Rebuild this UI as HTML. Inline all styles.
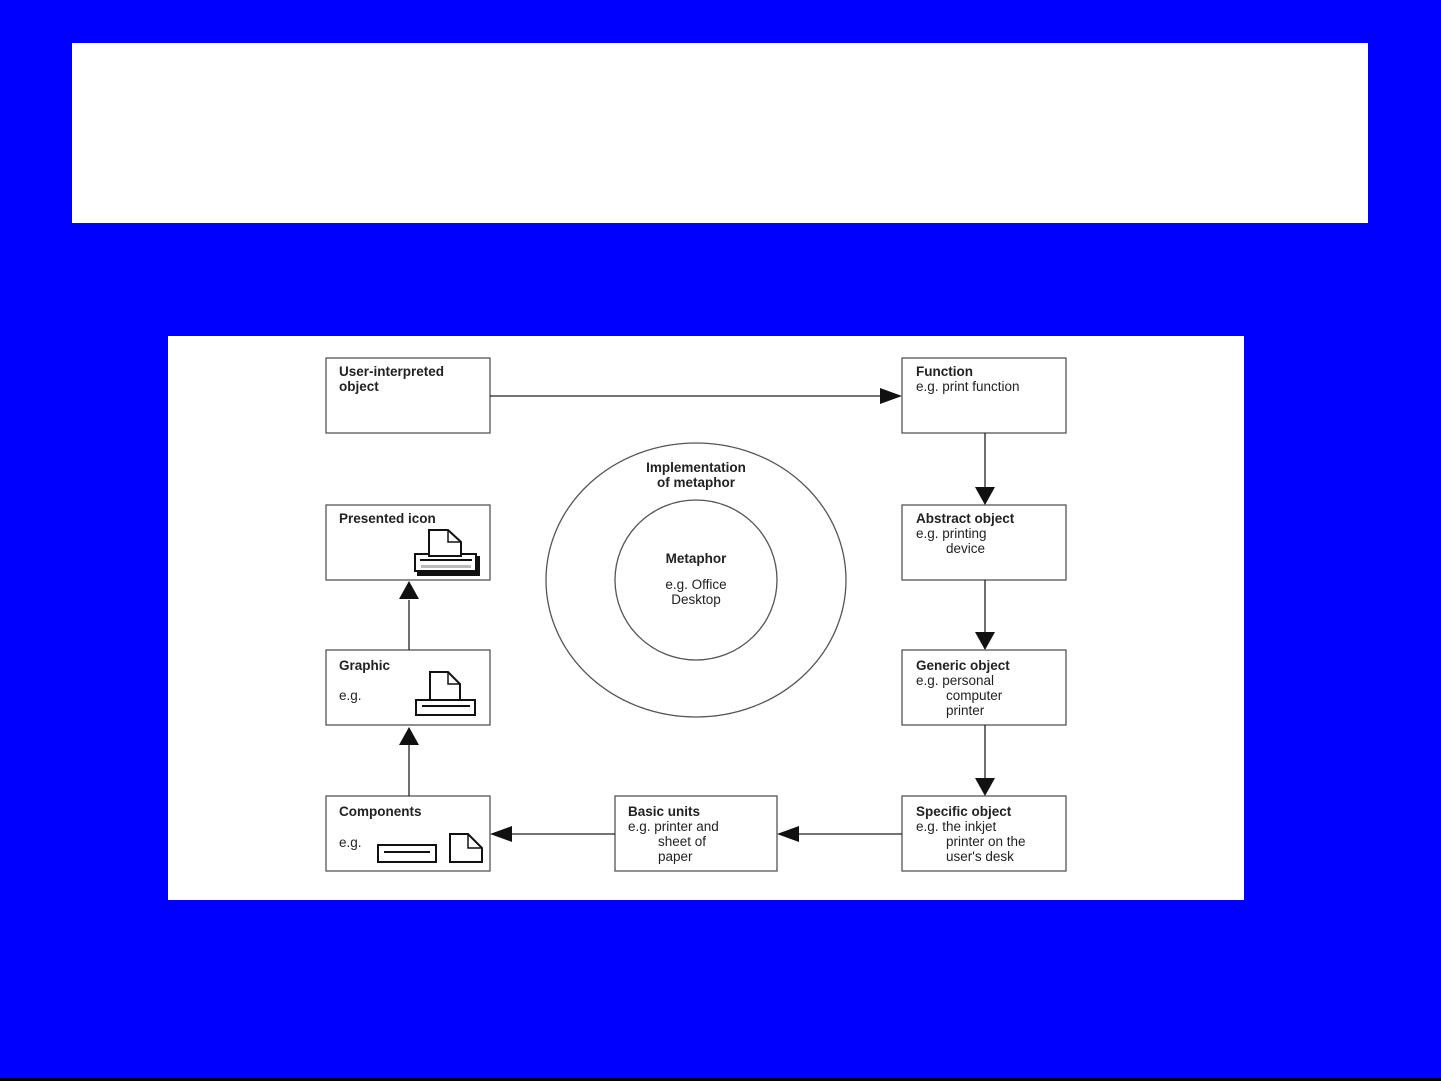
<!DOCTYPE html>
<html><head><style>
html,body{margin:0;padding:0;background:#0000ff;width:1441px;height:1081px;overflow:hidden}
svg{position:absolute;left:0;top:0}
text{font-family:"Liberation Sans",sans-serif;font-size:13.5px;fill:#222}
.b{font-weight:bold}
</style></head><body>
<svg width="1441" height="1081" viewBox="0 0 1441 1081">
<rect x="0" y="0" width="1441" height="1081" fill="#0000ff"/>
<rect x="0" y="1078" width="1441" height="3" fill="#000"/>
<rect x="72" y="43" width="1296" height="180" fill="#fff"/>
<rect x="168" y="336" width="1076" height="564" fill="#fff"/>
<g fill="#fff" stroke="#555" stroke-width="1.3">
<rect x="326" y="358" width="164" height="75"/>
<rect x="902" y="358" width="164" height="75"/>
<rect x="902" y="505" width="164" height="75"/>
<rect x="902" y="650" width="164" height="75"/>
<rect x="902" y="796" width="164" height="75"/>
<rect x="615" y="796" width="162" height="75"/>
<rect x="326" y="796" width="164" height="75"/>
<rect x="326" y="650" width="164" height="75"/>
<rect x="326" y="505" width="164" height="75"/>
<ellipse cx="696" cy="580" rx="150" ry="137"/>
<ellipse cx="696" cy="580" rx="81" ry="80"/>
</g>
<g stroke="#222" stroke-width="1.3" fill="none">
<line x1="490" y1="396" x2="884" y2="396"/>
<line x1="985" y1="433" x2="985" y2="488"/>
<line x1="985" y1="580" x2="985" y2="633"/>
<line x1="985" y1="725" x2="985" y2="779"/>
<line x1="902" y1="834" x2="797" y2="834"/>
<line x1="615" y1="834" x2="510" y2="834"/>
<line x1="409" y1="796" x2="409" y2="745"/>
<line x1="409" y1="650" x2="409" y2="600"/>
</g>
<g fill="#111">
<polygon points="902,396 880,388 880,404"/>
<polygon points="985,505 975,487 995,487"/>
<polygon points="985,650 975,632 995,632"/>
<polygon points="985,796 975,778 995,778"/>
<polygon points="777,834 799,826 799,842"/>
<polygon points="490,834 512,826 512,842"/>
<polygon points="409,727 399,745 419,745"/>
<polygon points="409,581 399,599 419,599"/>
</g>
<g stroke="#111" stroke-width="2" fill="#fff">
<rect x="378" y="845" width="58" height="17"/>
<line x1="384" y1="852" x2="430" y2="852"/>
<path d="M450 834 H468 L482 848 V862 H450 Z"/>
<path d="M468 834 V848 H482" fill="none" stroke-width="1.5"/>
<path d="M430 672 H448 L460 684 V700 H430 Z"/>
<path d="M448 672 V684 H460" fill="none" stroke-width="1.5"/>
<rect x="416" y="700" width="59" height="15"/>
<line x1="422" y1="706" x2="470" y2="706"/>
<rect x="418" y="557" width="61" height="18" fill="#111"/>
<rect x="415" y="554" width="61" height="17"/>
<path d="M429 530 H448 L461 542 V556 H429 Z"/>
<path d="M448 530 V542 H461" fill="none" stroke-width="1.5"/>
<line x1="420" y1="560" x2="472" y2="560"/>
<rect x="421" y="565" width="50" height="3" fill="#bbb" stroke="none"/>
</g>
<text x="339" y="376" class="b">User-interpreted</text>
<text x="339" y="391" class="b">object</text>
<text x="916" y="376" class="b">Function</text>
<text x="916" y="391">e.g. print function</text>
<text x="916" y="523" class="b">Abstract object</text>
<text x="916" y="538">e.g. printing</text>
<text x="946" y="553">device</text>
<text x="916" y="670" class="b">Generic object</text>
<text x="916" y="685">e.g. personal</text>
<text x="946" y="700">computer</text>
<text x="946" y="715">printer</text>
<text x="916" y="816" class="b">Specific object</text>
<text x="916" y="831">e.g. the inkjet</text>
<text x="946" y="846">printer on the</text>
<text x="946" y="861">user's desk</text>
<text x="628" y="816" class="b">Basic units</text>
<text x="628" y="831">e.g. printer and</text>
<text x="658" y="846">sheet of</text>
<text x="658" y="861">paper</text>
<text x="339" y="816" class="b">Components</text>
<text x="339" y="847">e.g.</text>
<text x="339" y="670" class="b">Graphic</text>
<text x="339" y="700">e.g.</text>
<text x="339" y="523" class="b">Presented icon</text>
<text x="696" y="472" class="b" text-anchor="middle">Implementation</text>
<text x="696" y="487" class="b" text-anchor="middle">of metaphor</text>
<text x="696" y="563" class="b" text-anchor="middle">Metaphor</text>
<text x="696" y="589" text-anchor="middle">e.g. Office</text>
<text x="696" y="604" text-anchor="middle">Desktop</text>
</svg>
</body></html>
